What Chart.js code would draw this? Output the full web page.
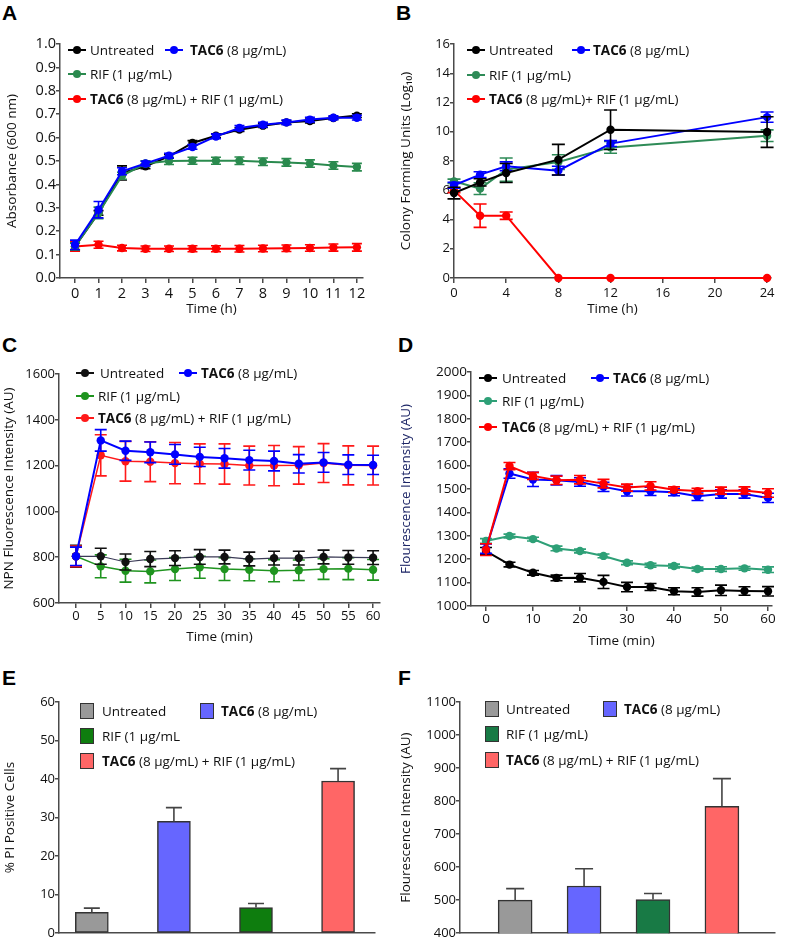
<!DOCTYPE html>
<html>
<head>
<meta charset="utf-8">
<script src="https://cdn.jsdelivr.net/npm/chart.js@4.4.1/dist/chart.umd.min.js"></script>
<style>
html,body{margin:0;padding:0;background:#fff;}
body{width:785px;height:941px;position:relative;overflow:hidden;font-family:"Open Sans",sans-serif;color:#111;}
canvas{position:absolute;}
.pl{position:absolute;font:bold 21px/21px "Liberation Sans",Arial,sans-serif;color:#000;}
.lt{position:absolute;font-size:13.5px;line-height:16px;white-space:nowrap;color:#111;font-family:"Open Sans",sans-serif;}
.ml{position:absolute;height:2px;}
.md{position:absolute;width:8px;height:8px;border-radius:50%;}
.mb{position:absolute;width:14px;height:16px;border:1.5px solid #333;box-sizing:border-box;}
</style>
</head>
<body>
<div class="pl" style="left:2px;top:2px">A</div>
<div class="pl" style="left:396px;top:2px">B</div>
<div class="pl" style="left:2px;top:334px">C</div>
<div class="pl" style="left:398px;top:334px">D</div>
<div class="pl" style="left:2px;top:667px">E</div>
<div class="pl" style="left:398px;top:667px">F</div>

<canvas id="cA" width="392" height="330" style="left:0;top:0"></canvas>
<canvas id="cB" width="393" height="330" style="left:392px;top:0"></canvas>
<canvas id="cC" width="392" height="340" style="left:0;top:310px"></canvas>
<canvas id="cD" width="393" height="340" style="left:392px;top:310px"></canvas>
<canvas id="cE" width="392" height="321" style="left:0;top:620px"></canvas>
<canvas id="cF" width="393" height="321" style="left:392px;top:620px"></canvas>

<script>
// ================= DATA =================
// Panel A – growth, Absorbance (600 nm)
const timeA = [0,1,2,3,4,5,6,7,8,9,10,11,12];
const absUntreated    = [0.135,0.278,0.449,0.477,0.52,0.577,0.608,0.634,0.651,0.665,0.671,0.684,0.694];
const absUntreatedErr = [0.015,0.01,0.03,0.01,0.008,0.01,0.008,0.008,0.008,0.008,0.008,0.006,0.008];
const absTAC6         = [0.142,0.292,0.456,0.489,0.523,0.56,0.605,0.641,0.655,0.665,0.677,0.685,0.685];
const absTAC6Err      = [0.02,0.035,0.015,0.01,0.01,0.01,0.01,0.01,0.01,0.01,0.01,0.008,0.01];
const absRIF          = [0.135,0.278,0.437,0.489,0.5,0.501,0.501,0.501,0.497,0.494,0.489,0.481,0.474];
const absRIFErr       = [0.015,0.025,0.015,0.012,0.015,0.015,0.015,0.016,0.016,0.016,0.016,0.016,0.016];
const absCombo        = [0.135,0.142,0.128,0.125,0.125,0.125,0.125,0.125,0.126,0.127,0.128,0.13,0.131];
const absComboErr     = [0.02,0.015,0.012,0.012,0.012,0.013,0.013,0.014,0.014,0.014,0.014,0.015,0.016];
const ticksAx = [0,1,2,3,4,5,6,7,8,9,10,11,12];
const ticksAy = [0,0.1,0.2,0.3,0.4,0.5,0.6,0.7,0.8,0.9,1.0];

// Panel B – CFU (Log10)
const timeB = [0,2,4,8,12,24];
const cfuUntreated    = [5.81,6.54,7.18,8.09,10.14,9.98];
const cfuUntreatedErr = [0.4,0.25,0.65,1.05,1.35,1.05];
const cfuTAC6         = [6.34,7.07,7.64,7.34,9.19,11.0];
const cfuTAC6Err      = [0.2,0.2,0.3,0.3,0.2,0.35];
const cfuRIF          = [6.61,6.11,7.41,7.93,8.93,9.73];
const cfuRIFErr       = [0.15,0.4,0.8,0.5,0.4,0.4];
const cfuCombo        = [5.99,4.26,4.26,0,0,0];
const cfuComboErr     = [0.15,0.8,0.25,0,0,0];
const ticksBx = [0,4,8,12,16,20,24];
const ticksBy = [0,2,4,6,8,10,12,14,16];

// Panel C – NPN fluorescence
const timeC = [0,5,10,15,20,25,30,35,40,45,50,55,60];
const npnUntreated    = [804,804,779,792,796,801,801,792,796,796,801,799,798];
const npnUntreatedErr = [48,35,35,33,32,32,30,30,30,30,30,30,30];
const npnTAC6         = [804,1310,1265,1258,1249,1238,1232,1224,1220,1208,1214,1204,1203];
const npnTAC6Err      = [40,47,42,45,43,42,43,43,43,40,43,43,42];
const npnRIF          = [804,760,741,738,748,756,748,745,741,743,748,750,745];
const npnRIFErr       = [45,50,50,50,50,48,50,48,48,45,45,48,45];
const npnCombo        = [804,1245,1219,1217,1211,1208,1207,1200,1200,1201,1211,1201,1200];
const npnComboErr     = [45,90,87,87,90,87,88,85,88,82,85,85,85];
const ticksCx = [0,5,10,15,20,25,30,35,40,45,50,55,60];
const ticksCy = [600,800,1000,1200,1400,1600];

// Panel D – fluorescence intensity
const timeD = [0,5,10,15,20,25,30,35,40,45,50,55,60];
const fluoUntreated    = [1235,1177,1142,1120,1121,1103,1081,1081,1063,1060,1067,1064,1063];
const fluoUntreatedErr = [15,10,10,12,18,28,20,15,15,18,22,18,20];
const fluoTAC6         = [1245,1566,1541,1537,1530,1509,1490,1490,1486,1469,1479,1479,1462];
const fluoTAC6Err      = [20,20,30,20,18,20,20,18,15,18,18,18,20];
const fluoRIF          = [1278,1299,1286,1246,1235,1214,1185,1174,1171,1158,1158,1161,1155];
const fluoRIFErr       = [10,8,8,10,8,8,8,8,8,8,10,8,12];
const fluoCombo        = [1241,1598,1556,1537,1540,1523,1506,1513,1497,1491,1493,1494,1483];
const fluoComboErr     = [25,15,15,18,18,18,15,18,12,12,15,15,18];
const ticksDx = [0,10,20,30,40,50,60];
const ticksDy = [1000,1100,1200,1300,1400,1500,1600,1700,1800,1900,2000];

// Panel E – % PI positive cells
const barIndex = [0,1,2,3];
const piValues = [5.4,29.0,6.65,39.5];
const piErr    = [1.1,3.6,1.05,3.2];
const ticksEy  = [0,10,20,30,40,50,60];

// Panel F – fluorescence intensity (bars)
const fiValues = [500,543,502,784];
const fiErr    = [35,52,18,84];
const ticksFy  = [400,500,600,700,800,900,1000,1100];

// Series names (legend text)
const namesA = ['Untreated','TAC6 (8 μg/mL)','RIF (1 μg/mL)','TAC6 (8 μg/mL) + RIF (1 μg/mL)'];
const namesB = ['Untreated','TAC6 (8 μg/mL)','RIF (1 μg/mL)','TAC6 (8 μg/mL)+ RIF (1 μg/mL)'];
const namesC = ['Untreated','TAC6 (8 μg/mL)','RIF (1 μg/mL)','TAC6 (8 μg/mL) + RIF (1 μg/mL)'];
const namesD = ['Untreated','TAC6 (8 μg/mL)','RIF (1 μg/mL)','TAC6 (8 μg/mL) + RIF (1 μg/mL)'];
const namesE = ['Untreated','TAC6 (8 μg/mL)','RIF (1 μg/mL','TAC6 (8 μg/mL) + RIF (1 μg/mL)'];
const namesF = ['Untreated','TAC6 (8 μg/mL)','RIF (1 μg/mL)','TAC6 (8 μg/mL) + RIF (1 μg/mL)'];

// ================= RENDERING =================
const FONT = '"Open Sans", "DejaVu Sans", sans-serif';
const AXIS = '#4a4a4a';
const TXT = '#111';

const errorBars = {
  id: 'errorBars',
  afterDatasetDraw(chart, args) {
    const ds = chart.data.datasets[args.index];
    if (!ds.errors) return;
    const ctx = chart.ctx, ys = chart.scales.y;
    const meta = args.meta;
    ctx.save();
    ctx.strokeStyle = ds.errorColor || ds.borderColor;
    ctx.lineWidth = ds.errorWidth || 1.6;
    const cap = ds.capHalf || 5;
    meta.data.forEach((el, j) => {
      const e = ds.errors[j];
      if (!e) return;
      const v = ds.data[j].y;
      const x = el.x;
      const yTop = ys.getPixelForValue(v + e);
      const yBot = ds.upperOnly ? ys.getPixelForValue(v) : ys.getPixelForValue(v - e);
      ctx.beginPath();
      ctx.moveTo(x, yTop); ctx.lineTo(x, yBot);
      ctx.moveTo(x - cap, yTop); ctx.lineTo(x + cap, yTop);
      if (!ds.upperOnly) { ctx.moveTo(x - cap, yBot); ctx.lineTo(x + cap, yBot); }
      ctx.stroke();
    });
    ctx.restore();
  }
};
Chart.register(errorBars);

function xy(xs, ys) { return xs.map((t, i) => ({x: t, y: ys[i]})); }

function lineSet(xs, ys, errs, color, o) {
  o = o || {};
  return {
    data: xy(xs, ys), errors: errs,
    borderColor: o.line || color, backgroundColor: color,
    pointBackgroundColor: color, pointBorderColor: color,
    borderWidth: o.w || 2, pointRadius: o.r || 4.2, pointHoverRadius: 4,
    pointBorderWidth: 0, tension: 0, clip: false,
    errorColor: color, capHalf: o.cap || 5, errorWidth: o.ew || 1.6,
    order: o.order || 0
  };
}

function makeChart(id, p) {
  const cv = document.getElementById(id);
  const W = cv.width, H = cv.height;
  const tickFont = {family: FONT, size: p.tickSize || 13};
  const titleFont = {family: FONT, size: 13.5};
  const lh = titleFont.size * 1.2;
  const scaleBottom = p.xTitle ? p.xTitleY + lh / 2 + 2 : p.B;
  const padBottom = H - scaleBottom;
  const xHeight = scaleBottom - p.B;
  const yTitlePad = Math.max(0, p.yTitleX - lh / 2);
  return new Chart(cv, {
    type: p.type,
    data: {datasets: p.datasets},
    options: {
      responsive: false, animation: false, events: [],
      layout: {autoPadding: false, padding: {left: 0, right: W - p.R, top: p.T, bottom: padBottom}},
      plugins: {legend: {display: false}, tooltip: {enabled: false}},
      scales: {
        x: {
          type: 'linear', min: p.xMin, max: p.xMax, offset: false,
          afterBuildTicks: s => { s.ticks = (p.xTicks || []).map(v => ({value: v})); },
          afterFit: s => { s.height = xHeight; },
          border: {display: true, color: AXIS, width: 1.5},
          grid: {display: true, offset: false, drawOnChartArea: false, drawTicks: !!p.xTicks, tickLength: 5, color: AXIS, lineWidth: 1.5},
          ticks: {display: !!p.xTicks, font: tickFont, color: TXT, padding: p.xTickPad || 0, autoSkip: false, maxRotation: 0, minRotation: 0},
          title: {display: !!p.xTitle, text: p.xTitle || '', font: titleFont, color: TXT, padding: {top: 0, bottom: 2}}
        },
        y: {
          type: 'linear', min: p.yMin, max: p.yMax,
          afterBuildTicks: s => { s.ticks = p.yTicks.map(v => ({value: v})); },
          afterFit: s => { s.width = p.L; },
          border: {display: true, color: AXIS, width: 1.5},
          grid: {display: true, drawOnChartArea: false, drawTicks: true, tickLength: 4, color: AXIS, lineWidth: 1.5},
          ticks: {font: tickFont, color: TXT, padding: 0, autoSkip: false, callback: p.yFmt || (v => String(v))},
          title: {display: true, text: p.yTitle, font: titleFont, color: p.yTitleColor || TXT, padding: {top: yTitlePad, bottom: 0}}
        }
      }
    }
  });
}

// ---- A ----
makeChart('cA', {
  type: 'line', L: 60, R: 363, T: 44, B: 278, xTitle: 'Time (h)', xTitleY: 309, yTitleX: 12,
  xMin: -0.64, xMax: 12.26, xTicks: ticksAx, xTickPad: 2, tickSize: 14.5,
  yMin: 0, yMax: 1, yTicks: ticksAy, yFmt: v => v.toFixed(1), yTitle: 'Absorbance (600 nm)',
  datasets: [
    lineSet(timeA, absTAC6, absTAC6Err, '#0000ff', {order: 0, cap: 5}),
    lineSet(timeA, absRIF, absRIFErr, '#2a8a4e', {order: 1, cap: 5}),
    lineSet(timeA, absUntreated, absUntreatedErr, '#000000', {order: 2, cap: 5}),
    lineSet(timeA, absCombo, absComboErr, '#ff0000', {order: 3, cap: 5})
  ]
});

// ---- B ----
makeChart('cB', {
  type: 'line', L: 62, R: 379, T: 44, B: 278, xTitle: 'Time (h)', xTitleY: 309, yTitleX: 14,
  xMin: 0, xMax: 24.3, xTicks: ticksBx, xTickPad: 2,
  yMin: 0, yMax: 16, yTicks: ticksBy, yTitle: 'Colony Forming Units (Log₁₀)',
  datasets: [
    lineSet(timeB, cfuUntreated, cfuUntreatedErr, '#000000', {order: 0, cap: 6.5}),
    lineSet(timeB, cfuTAC6, cfuTAC6Err, '#0000ff', {order: 1, cap: 6.5}),
    lineSet(timeB, cfuRIF, cfuRIFErr, '#2e8b57', {order: 2, cap: 6.5}),
    lineSet(timeB, cfuCombo, cfuComboErr, '#ff0000', {order: 3, cap: 6.5})
  ]
});

// ---- C ----
makeChart('cC', {
  type: 'line', L: 59, R: 380, T: 64, B: 293, xTitle: 'Time (min)', xTitleY: 327, yTitleX: 9,
  xMin: -3.43, xMax: 61.4, xTicks: ticksCx, xTickPad: 0,
  yMin: 600, yMax: 1600, yTicks: ticksCy, yTitle: 'NPN Fluorescence Intensity (AU)',
  datasets: [
    lineSet(timeC, npnTAC6, npnTAC6Err, '#0000ff', {order: 0, cap: 6}),
    lineSet(timeC, npnCombo, npnComboErr, '#ff1a1a', {order: 1, cap: 6, w: 1.5}),
    lineSet(timeC, npnUntreated, npnUntreatedErr, '#111111', {order: 2, cap: 6, w: 1.2, line: '#3a3a55'}),
    lineSet(timeC, npnRIF, npnRIFErr, '#1f941f', {order: 3, cap: 6, w: 1.5})
  ]
});

// ---- D ----
makeChart('cD', {
  type: 'line', L: 79, R: 380, T: 62, B: 296, xTitle: 'Time (min)', xTitleY: 331, yTitleX: 14,
  xMin: -3.19, xMax: 60.85, xTicks: ticksDx, xTickPad: 0, tickSize: 13.5,
  yMin: 1000, yMax: 2000, yTicks: ticksDy, yTitle: 'Flourescence Intensity (AU)', yTitleColor: '#1c2566',
  datasets: [
    lineSet(timeD, fluoCombo, fluoComboErr, '#ff0000', {order: 0, cap: 6}),
    lineSet(timeD, fluoTAC6, fluoTAC6Err, '#0000ff', {order: 1, cap: 6}),
    lineSet(timeD, fluoUntreated, fluoUntreatedErr, '#000000', {order: 2, cap: 6}),
    lineSet(timeD, fluoRIF, fluoRIFErr, '#2ea077', {order: 3, cap: 6})
  ]
});

// ---- E ----
const barColorsE = ['#999999', '#6666ff', '#0e7d0e', '#ff6666'];
makeChart('cE', {
  type: 'bar', L: 59, R: 375, T: 82, B: 316, yTitleX: 10,
  xMin: -0.4, xMax: 3.45,
  yMin: 0, yMax: 60, yTicks: ticksEy, yTitle: '% PI Positive Cells',
  datasets: [{
    data: xy(barIndex, piValues), errors: piErr, upperOnly: true,
    backgroundColor: barColorsE, borderColor: '#333', borderWidth: 1.5, borderSkipped: false,
    barThickness: 33, errorColor: '#444', capHalf: 8, errorWidth: 1.6
  }]
});

// ---- F ----
const barColorsF = ['#999999', '#6666ff', '#187a45', '#ff6666'];
makeChart('cF', {
  type: 'bar', L: 68, R: 383, T: 82, B: 316, yTitleX: 14,
  xMin: -0.8, xMax: 3.77,
  yMin: 400, yMax: 1100, yTicks: ticksFy, yTitle: 'Flourescence Intensity (AU)',
  datasets: [{
    data: xy(barIndex, fiValues), errors: fiErr, upperOnly: true,
    backgroundColor: barColorsF, borderColor: '#333', borderWidth: 1.5, borderSkipped: false,
    barThickness: 34, errorColor: '#444', capHalf: 9, errorWidth: 1.6
  }]
});

// ================= LEGENDS (HTML text) =================
function fmt(s) {
  return s.replace('μ', '\u03bc').replace(/^TAC6/, '<b>TAC6</b>');
}
function addLegend(kind, names, colors, pos) {
  // pos: [ [markerLeft, textLeft, rowCenterY], ... ] in the order of names
  names.forEach((name, i) => {
    const [mx, tx, y] = pos[i];
    if (kind === 'line') {
      const l = document.createElement('div');
      l.className = 'ml';
      l.style.cssText = `left:${mx}px;top:${y - 1}px;width:18px;background:${colors[i]}`;
      document.body.appendChild(l);
      const d = document.createElement('div');
      d.className = 'md';
      d.style.cssText = `left:${mx + 5}px;top:${y - 4}px;background:${colors[i]}`;
      document.body.appendChild(d);
    } else {
      const b = document.createElement('div');
      b.className = 'mb';
      b.style.cssText = `left:${mx}px;top:${y - 8}px;background:${colors[i]}`;
      document.body.appendChild(b);
    }
    const t = document.createElement('div');
    t.className = 'lt';
    t.style.cssText = `left:${tx}px;top:${y - 8}px`;
    t.innerHTML = fmt(name);
    document.body.appendChild(t);
  });
}
addLegend('line', namesA, ['#000', '#0000ff', '#2a8a4e', '#ff0000'],
  [[68, 90, 50], [165, 190, 50], [68, 90, 74], [68, 90, 99]]);
addLegend('line', namesB, ['#000', '#0000ff', '#2e8b57', '#ff0000'],
  [[467, 489, 50], [572, 593, 50], [467, 489, 75], [467, 489, 99]]);
addLegend('line', namesC, ['#111', '#0000ff', '#1f941f', '#ff1a1a'],
  [[76, 100, 373], [179, 201, 373], [76, 98, 396], [76, 98, 418]]);
addLegend('line', namesD, ['#000', '#0000ff', '#2ea077', '#ff0000'],
  [[479, 502, 378], [591, 613, 378], [479, 502, 401], [479, 502, 427]]);
addLegend('box', namesE, barColorsE,
  [[80, 102, 711], [200, 221, 711], [80, 102, 736], [80, 102, 761]]);
addLegend('box', namesF, barColorsF,
  [[485, 506, 709], [603, 624, 709], [485, 506, 734], [485, 506, 760]]);
</script>
</body>
</html>
